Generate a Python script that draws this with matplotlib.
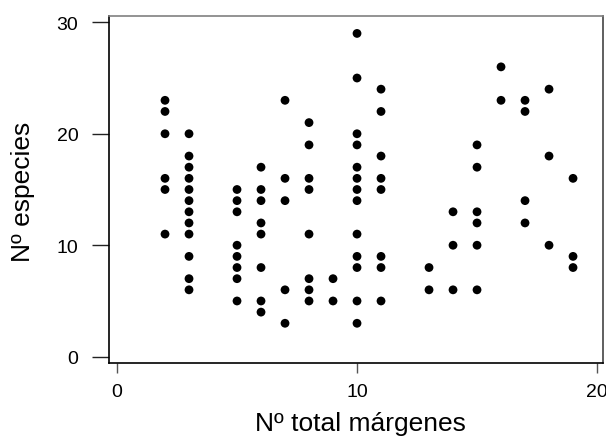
import matplotlib
matplotlib.use("Agg")
import matplotlib.pyplot as plt

plt.rcParams['font.family'] = ['Liberation Sans', 'DejaVu Sans']

# Data: N total margenes (x) and N especies (y), grouped by x column
columns = {
    2: [23, 22, 20, 16, 15, 11],
    3: [20, 18, 17, 16, 15, 14, 13, 12, 11, 9, 7, 6],
    5: [15, 14, 13, 10, 9, 8, 7, 5],
    6: [17, 15, 14, 12, 11, 8, 5, 4],
    7: [23, 16, 14, 6, 3],
    8: [21, 19, 16, 15, 11, 7, 6, 5],
    9: [7, 5],
    10: [29, 25, 20, 19, 17, 16, 15, 14, 11, 9, 8, 5, 3],
    11: [24, 22, 18, 16, 15, 9, 8, 5],
    13: [8, 6],
    14: [13, 10, 6],
    15: [19, 17, 13, 12, 10, 6],
    16: [26, 23],
    17: [23, 22, 14, 12],
    18: [24, 18, 10],
    19: [16, 9, 8],
}
x_vals = [k for k, v in columns.items() for _ in v]
y_vals = [y for v in columns.values() for y in v]

x_ticks = [0, 10, 20]
y_ticks = [0, 10, 20, 30]

fig = plt.figure(figsize=(6.06, 4.39), dpi=100)
ax = fig.add_axes([0.1799, 0.1708, 0.8152, 0.7904])
ax.scatter(x_vals, y_vals, s=40, c='black', edgecolors='none', zorder=3)

ax.set_xlim(-0.333, 20.25)
ax.set_ylim(-0.565, 30.56)
ax.set_xticks(x_ticks)
ax.set_yticks(y_ticks)
ax.tick_params(axis='y', direction='out', length=12, width=1, labelsize=14, pad=10, color='#222222')
ax.tick_params(axis='x', direction='out', length=7.5, width=1, labelsize=14, pad=7, color='#555555')
for s in ['left', 'bottom']:
    ax.spines[s].set_color('black')
ax.spines['top'].set_color('#808080')
ax.spines['right'].set_color('#444444')
for s in ax.spines.values():
    s.set_linewidth(1.2)

fig.text(360 / 606, (439 - 431) / 439, 'Nº total márgenes', fontsize=19,
         ha='center', va='baseline')
fig.text(23 / 606, 1 - 192 / 439, 'Nº especies', fontsize=19,
         ha='center', va='center', rotation=90)

fig.savefig('out.png', dpi=100)
